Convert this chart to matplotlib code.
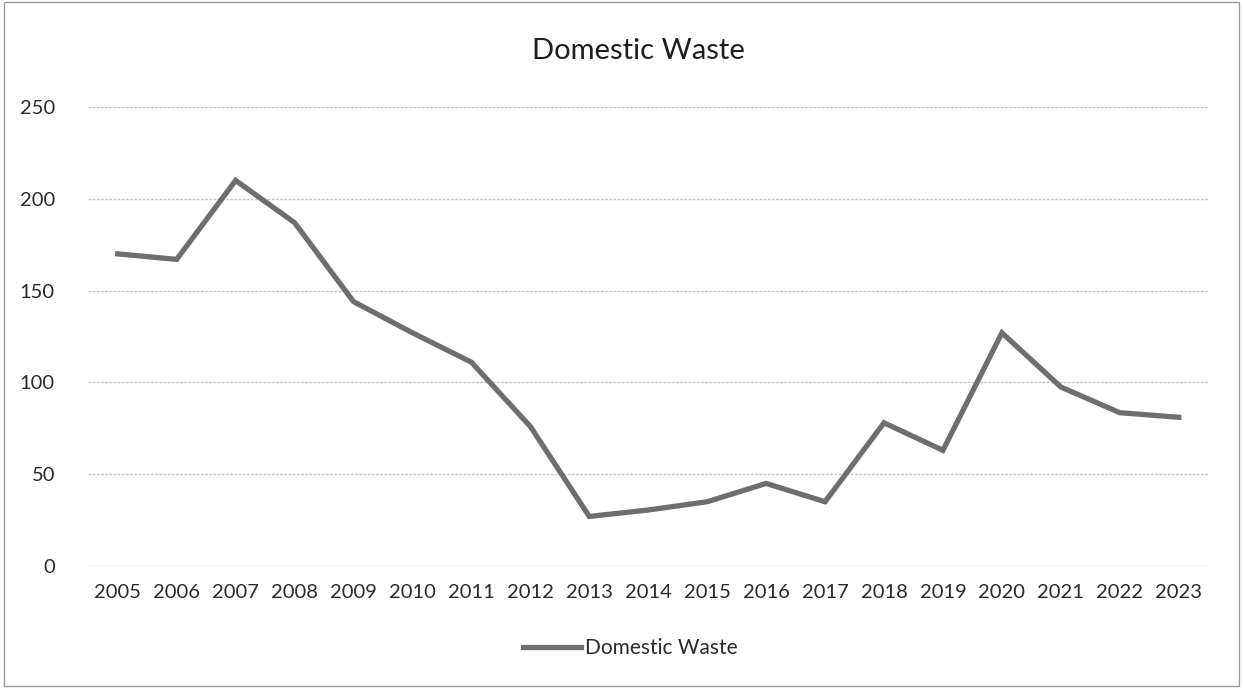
import matplotlib.pyplot as plt
from matplotlib.patches import Rectangle

years = ['2005', '2006', '2007', '2008', '2009', '2010', '2011', '2012', '2013', '2014',
         '2015', '2016', '2017', '2018', '2019', '2020', '2021', '2022', '2023']
waste = [170, 167, 210, 187, 144, 127, 111, 76, 27, 30.5,
         35, 45, 35, 78, 63, 127, 97.5, 83.5, 81]
y_ticks = [0, 50, 100, 150, 200, 250]

plt.rcParams['font.family'] = ['Lato', 'DejaVu Sans']

fig = plt.figure(figsize=(12.43, 6.88), dpi=100)
ax = fig.add_axes([0.071, 0.1773, 0.901, 0.6672])

x = list(range(len(years)))
ax.plot(x, waste, color='#6e6e6e', linewidth=3.8, solid_joinstyle='miter',
        label='Domestic Waste')

ax.set_xlim(-0.5, len(years) - 0.5)
ax.set_ylim(0, 250)
ax.set_yticks(y_ticks)
ax.set_xticks(x)
ax.set_xticklabels(years)

# light gridlines, no frame, no ticks
ax.grid(axis='y', color='#c4c4c4', linewidth=1, linestyle=(0, (2, 1)))
ax.set_axisbelow(True)
for s in ax.spines.values():
    s.set_visible(False)
ax.tick_params(axis='both', length=0, labelsize=14.5, colors='#2a2a2a')
ax.tick_params(axis='y', pad=24)
ax.tick_params(axis='x', pad=13)

fig.text(0.514, 0.926, 'Domestic Waste', ha='center', va='center',
         fontsize=21, color='#1e1e1e')

fig.legend(loc='center', bbox_to_anchor=(0.507, 0.058), frameon=False,
           fontsize=15, handlelength=2.8, handletextpad=0.15,
           labelcolor='#2a2a2a')

# chart area border
fig.patches.append(Rectangle((0.003, 0.003), 0.994, 0.994, transform=fig.transFigure,
                             fill=False, edgecolor='#9a9a9a', linewidth=1))

fig.savefig('out.png', dpi=100, facecolor='white')
